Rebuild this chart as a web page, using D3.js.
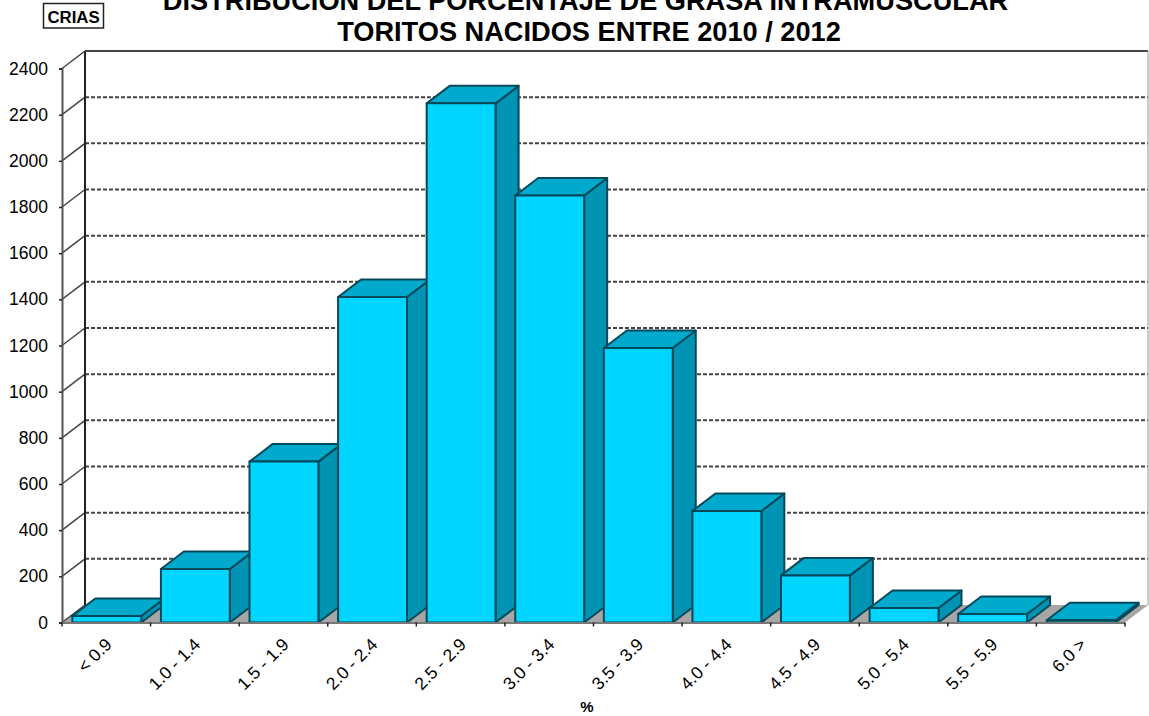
<!DOCTYPE html>
<html>
<head>
<meta charset="utf-8">
<script src="https://cdn.jsdelivr.net/npm/d3@7"></script>
<style>
	html, body { margin: 0; padding: 0; background: #fff; overflow: hidden; }
	text { font-family: "Liberation Sans", Arial, sans-serif; fill: #000; }
	.title { font-size: 27.2px; font-weight: bold; text-anchor: middle; }
</style>
</head>
<body>
<svg id="plot" width="1149" height="716"></svg>
<script>
const CATEGORIES = ['< 0.9', '1.0 - 1.4', '1.5 - 1.9', '2.0 - 2.4', '2.5 - 2.9', '3.0 - 3.4', '3.5 - 3.9', '4.0 - 4.4', '4.5 - 4.9', '5.0 - 5.4', '5.5 - 5.9', '6.0 >'];
const VALUES = [28, 232, 697, 1410, 2249, 1850, 1189, 483, 204, 63, 37, 10];
const Y_TICKS = [0, 200, 400, 600, 800, 1000, 1200, 1400, 1600, 1800, 2000, 2200, 2400];
const TITLE_LINES = ['DISTRIBUCION DEL PORCENTAJE DE GRASA INTRAMUSCULAR', 'TORITOS NACIDOS ENTRE 2010 / 2012'];

// depth of the fake 3d box
const DX = 23, DY = -17.5;
const LEFT = 62, RIGHT = 1125, BOTTOM = 622.5, TOP = 68.5;

const svg = d3.select('#plot');

const x = d3.scaleBand().domain(CATEGORIES).range([LEFT + 0.5, RIGHT + 0.5]).paddingInner(0.222).paddingOuter(0.111);
const y = d3.scaleLinear().domain([0, 2400]).range([BOTTOM, TOP]);

const poly = pts => pts.map(p => p.join(',')).join(' ');

// floor
svg.append('polygon')
	.attr('points', poly([[LEFT, BOTTOM], [RIGHT, BOTTOM], [RIGHT + DX, BOTTOM + DY], [LEFT + DX, BOTTOM + DY]]))
	.attr('fill', '#a6a6a6');

// grid on the back wall, and the little slanted links on the side wall
svg.append('g').selectAll('line')
	.data(Y_TICKS.filter(d => d > 0 && d < 2400))
	.enter().append('line')
		.attr('x1', LEFT + DX).attr('x2', RIGHT + DX)
		.attr('y1', d => y(d) + DY).attr('y2', d => y(d) + DY)
		.attr('stroke', '#444').attr('stroke-width', 2).attr('stroke-dasharray', '4 2');

svg.append('g').selectAll('line')
	.data(Y_TICKS)
	.enter().append('line')
		.attr('x1', LEFT).attr('x2', LEFT + DX)
		.attr('y1', d => y(d)).attr('y2', d => y(d) + DY)
		.attr('stroke', '#444').attr('stroke-width', 1.5);

// walls
svg.append('line').attr('x1', LEFT + DX).attr('x2', LEFT + DX).attr('y1', TOP + DY).attr('y2', BOTTOM + DY).attr('stroke', '#222').attr('stroke-width', 2);
svg.append('line').attr('x1', LEFT + DX).attr('x2', RIGHT + DX).attr('y1', TOP + DY).attr('y2', TOP + DY).attr('stroke', '#444').attr('stroke-width', 2);
svg.append('line').attr('x1', RIGHT + DX).attr('x2', RIGHT + DX).attr('y1', TOP + DY).attr('y2', BOTTOM + DY).attr('stroke', '#999').attr('stroke-width', 1);

// bars
const bars = svg.append('g').selectAll('g')
	.data(CATEGORIES.map((c, i) => ({ c: c, v: VALUES[i] })))
	.enter().append('g')
		.attr('stroke', '#04495a').attr('stroke-width', 2).attr('stroke-linejoin', 'round');

bars.append('polygon')
	.attr('fill', '#0094b4')
	.attr('points', d => {
		const x1 = x(d.c) + x.bandwidth();
		return poly([[x1, BOTTOM], [x1 + DX, BOTTOM + DY], [x1 + DX, y(d.v) + DY], [x1, y(d.v)]]);
	});
bars.append('polygon')
	.attr('fill', '#00aacc')
	.attr('points', d => {
		const x0 = x(d.c), x1 = x0 + x.bandwidth(), t = y(d.v);
		return poly([[x0, t], [x1, t], [x1 + DX, t + DY], [x0 + DX, t + DY]]);
	});
bars.append('rect')
	.attr('fill', '#00d5ff')
	.attr('x', d => x(d.c))
	.attr('y', d => y(d.v))
	.attr('width', x.bandwidth())
	.attr('height', d => BOTTOM - y(d.v));

// y axis
const yAxis = svg.append('g')
	.attr('transform', `translate(${LEFT},0)`)
	.call(d3.axisLeft(y).tickValues(Y_TICKS).tickFormat(d3.format('d')).tickSize(3).tickPadding(11));
yAxis.select('.domain').attr('stroke', '#555').attr('stroke-width', 2);
yAxis.selectAll('line').attr('stroke', '#222').attr('stroke-width', 1.5);
yAxis.selectAll('text').attr('font-size', 17.5).attr('font-family', null);

// x axis line + ticks between the bands
const step = x.step();
svg.append('line').attr('x1', LEFT).attr('x2', RIGHT).attr('y1', BOTTOM + 0.5).attr('y2', BOTTOM + 0.5).attr('stroke', '#777').attr('stroke-width', 2);
svg.append('g').selectAll('line')
	.data(d3.range(CATEGORIES.length + 1))
	.enter().append('line')
		.attr('x1', i => LEFT + i * step).attr('x2', i => LEFT + i * step)
		.attr('y1', BOTTOM).attr('y2', BOTTOM + 4)
		.attr('stroke', '#222').attr('stroke-width', 1.5);

const xAxis = svg.append('g')
	.attr('transform', `translate(0,${BOTTOM})`)
	.call(d3.axisBottom(x).tickSize(0));
xAxis.select('.domain').remove();
xAxis.selectAll('text')
	.attr('font-size', 17.5)
	.attr('font-family', null)
	.attr('text-anchor', 'end')
	.attr('dy', null)
	.attr('y', null)
	.attr('transform', 'translate(6,23) rotate(-45)');

// titles, the top line runs off the page in the original too
svg.append('g').selectAll('text')
	.data(TITLE_LINES)
	.enter().append('text')
		.attr('class', 'title')
		.attr('x', (d, i) => i ? 589 : 585.5)
		.attr('y', (d, i) => 10 + i * 31)
		.text(d => d);

svg.append('text').attr('x', 587).attr('y', 712).attr('text-anchor', 'middle').attr('font-size', 15).attr('font-weight', 'bold').text('%');

svg.append('rect').attr('x', 43.5).attr('y', 3.5).attr('width', 60).attr('height', 24.5).attr('fill', '#fff').attr('stroke', '#222').attr('stroke-width', 1.5);
svg.append('text').attr('x', 73.5).attr('y', 23).attr('text-anchor', 'middle').attr('font-size', 16.8).attr('font-weight', 'bold').text('CRIAS');
</script>
</body>
</html>
